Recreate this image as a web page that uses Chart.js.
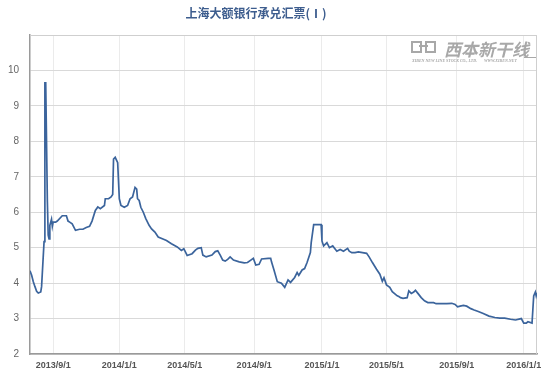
<!DOCTYPE html>
<html>
<head>
<meta charset="utf-8">
<script src="https://cdn.jsdelivr.net/npm/chart.js@4/dist/chart.umd.min.js"></script>
<style>
  html, body { margin: 0; padding: 0; background: #fff; }
</style>
</head>
<body>
<canvas id="chart-acceptance" width="559" height="377"></canvas>
<script>
var title = "上海大额银行承兑汇票(Ⅰ)";

var dates = [
  "2013-07-24", "2013-07-26", "2013-07-30", "2013-08-01", "2013-08-05", "2013-08-07", "2013-08-12", "2013-08-13",
  "2013-08-16", "2013-08-19", "2013-08-20", "2013-08-22", "2013-08-23", "2013-08-26", "2013-08-27", "2013-08-29",
  "2013-08-30", "2013-09-02", "2013-09-05", "2013-09-09", "2013-09-17", "2013-09-26", "2013-09-30", "2013-10-09",
  "2013-10-14", "2013-10-18", "2013-10-25", "2013-10-31", "2013-11-06", "2013-11-12", "2013-11-15", "2013-11-21",
  "2013-11-26", "2013-11-29", "2013-12-06", "2013-12-09", "2013-12-13", "2013-12-18", "2013-12-20", "2013-12-23",
  "2013-12-25", "2013-12-27", "2013-12-30", "2014-01-02", "2014-01-06", "2014-01-10", "2014-01-16", "2014-01-21",
  "2014-01-24", "2014-01-29", "2014-01-30", "2014-02-07", "2014-02-10", "2014-02-12", "2014-02-14", "2014-02-19",
  "2014-02-24", "2014-02-28", "2014-03-05", "2014-03-11", "2014-03-17", "2014-03-24", "2014-03-31", "2014-04-09",
  "2014-04-18", "2014-04-25", "2014-04-30", "2014-05-08", "2014-05-16", "2014-05-22", "2014-05-27", "2014-06-03",
  "2014-06-05", "2014-06-11", "2014-06-20", "2014-06-26", "2014-07-01", "2014-07-04", "2014-07-09", "2014-07-14",
  "2014-07-17", "2014-07-22", "2014-07-28", "2014-08-06", "2014-08-14", "2014-08-20", "2014-08-26", "2014-08-29",
  "2014-09-03", "2014-09-10", "2014-09-15", "2014-09-25", "2014-09-30", "2014-10-08", "2014-10-13", "2014-10-17",
  "2014-10-24", "2014-10-30", "2014-11-05", "2014-11-10", "2014-11-17", "2014-11-20", "2014-11-24", "2014-11-28",
  "2014-12-03", "2014-12-08", "2014-12-12", "2014-12-15", "2014-12-18", "2014-12-31", "2015-01-05", "2015-01-07",
  "2015-01-13", "2015-01-16", "2015-01-22", "2015-01-29", "2015-02-04", "2015-02-10", "2015-02-17", "2015-02-26",
  "2015-03-03", "2015-03-09", "2015-03-13", "2015-03-20", "2015-03-27", "2015-04-01", "2015-04-08", "2015-04-15",
  "2015-04-21", "2015-04-24", "2015-04-28", "2015-05-04", "2015-05-08", "2015-05-13", "2015-05-21", "2015-05-25",
  "2015-05-27", "2015-06-01", "2015-06-08", "2015-06-10", "2015-06-15", "2015-06-18", "2015-06-23", "2015-06-26",
  "2015-07-02", "2015-07-08", "2015-07-14", "2015-07-23", "2015-07-28", "2015-08-06", "2015-08-14", "2015-08-24",
  "2015-08-28", "2015-09-02", "2015-09-09", "2015-09-15", "2015-09-21", "2015-09-28", "2015-10-09", "2015-10-16",
  "2015-10-26", "2015-11-04", "2015-11-13", "2015-11-23", "2015-12-01", "2015-12-10", "2015-12-18", "2015-12-29",
  "2016-01-04", "2016-01-07", "2016-01-11", "2016-01-18", "2016-01-20", "2016-01-22", "2016-01-25", "2016-01-26"
];

var rates = [
  4.35, 4.22, 4.04, 3.90, 3.77, 3.72, 3.75, 3.90,
  5.17, 9.65, 9.65, 6.30, 5.35, 5.25, 5.63, 5.80,
  5.60, 5.72, 5.72, 5.75, 5.90, 5.90, 5.75, 5.72,
  5.67, 5.49, 5.52, 5.52, 5.57, 5.60, 5.75, 6.05,
  6.15, 6.10, 6.19, 6.38, 6.38, 6.43, 6.50, 7.50,
  7.55, 7.45, 7.40, 6.38, 6.19, 6.14, 6.19, 6.38,
  6.43, 6.70, 6.70, 6.65, 6.38, 6.33, 6.14, 6.00,
  5.82, 5.63, 5.53, 5.44, 5.30, 5.25, 5.20, 5.11,
  5.02, 4.92, 4.97, 4.78, 4.83, 4.93, 4.98, 5.00,
  4.79, 4.74, 4.79, 4.89, 4.91, 4.79, 4.65, 4.62,
  4.67, 4.74, 4.65, 4.60, 4.57, 4.58, 4.65, 4.70,
  4.51, 4.53, 4.68, 4.70, 4.70, 4.60, 4.37, 4.04,
  4.00, 3.88, 4.09, 4.02, 4.16, 4.30, 4.22, 4.37,
  4.41, 4.58, 4.86, 5.14, 5.65, 5.65, 5.19, 5.05,
  5.14, 5.00, 5.05, 4.90, 4.95, 4.90, 4.98, 4.90,
  4.86, 4.86, 4.88, 4.86, 4.84, 4.74, 4.58, 4.39,
  4.25, 4.05, 4.15, 3.95, 3.88, 3.76, 3.64, 3.62,
  3.59, 3.57, 3.59, 3.78, 3.71, 3.75, 3.80, 3.71,
  3.59, 3.50, 3.45, 3.45, 3.42, 3.42, 3.42, 3.43,
  3.40, 3.33, 3.35, 3.37, 3.35, 3.28, 3.24, 3.20,
  3.14, 3.07, 3.03, 3.01, 3.01, 2.98, 2.96, 3.00,
  2.87, 2.87, 2.91, 2.87, 3.64, 3.75, 3.64, 3.73
];

var tickDates = ["2013-09-01", "2014-01-01", "2014-05-01", "2014-09-01", "2015-01-01", "2015-05-01", "2015-09-01", "2016-01-01"];
var tickLabels = ["2013/9/1", "2014/1/1", "2014/5/1", "2014/9/1", "2015/1/1", "2015/5/1", "2015/9/1", "2016/1/1"];

// market closed on these weekdays, the axis counts trading days only
var holidays = [
  "2013-09-19", "2013-09-20", "2013-10-01", "2013-10-02", "2013-10-03", "2013-10-04", "2013-10-07",
  "2014-01-01", "2014-01-31", "2014-02-03", "2014-02-04", "2014-02-05", "2014-02-06", "2014-04-07",
  "2014-05-01", "2014-05-02", "2014-06-02", "2014-09-08", "2014-10-01", "2014-10-02", "2014-10-03",
  "2014-10-06", "2014-10-07", "2015-01-01", "2015-01-02", "2015-02-18", "2015-02-19", "2015-02-20",
  "2015-02-23", "2015-02-24", "2015-04-06", "2015-05-01", "2015-06-22", "2015-09-03", "2015-09-04",
  "2015-10-01", "2015-10-02", "2015-10-05", "2015-10-06", "2015-10-07", "2016-01-01"
];

function toUTC(s) {
  var p = s.split("-");
  return Date.UTC(+p[0], +p[1] - 1, +p[2]);
}

// number of trading days before the given date
function bday(s) {
  var dayMs = 86400000;
  var t = toUTC(s);
  var n = 0;
  for (var d = Date.UTC(2013, 6, 1); d < t; d += dayMs) {
    var wd = new Date(d).getUTCDay();
    if (wd === 0 || wd === 6) continue;
    if (holidays.indexOf(new Date(d).toISOString().slice(0, 10)) >= 0) continue;
    n++;
  }
  return n;
}

var points = dates.map(function(d, i) { return { x: bday(d), y: rates[i] }; });
var tickValues = tickDates.map(bday);
var tickText = {};
tickValues.forEach(function(v, i) { tickText[v] = tickLabels[i]; });

var decor = {
  id: "decor",
  beforeDatasetsDraw: function(chart) {
    var ctx = chart.ctx, a = chart.chartArea;
    ctx.save();
    // light frame on top and right
    ctx.strokeStyle = "#cfcfcf";
    ctx.lineWidth = 1;
    ctx.beginPath();
    ctx.moveTo(a.left, a.top + 0.5);
    ctx.lineTo(a.right - 0.5, a.top + 0.5);
    ctx.lineTo(a.right - 0.5, a.bottom);
    ctx.stroke();

    // watermark
    ctx.fillStyle = "#a8a8a8";
    ctx.strokeStyle = "#a8a8a8";
    ctx.lineWidth = 2;
    ctx.strokeRect(412, 42, 9, 10);
    ctx.strokeRect(426, 42, 9, 10);
    ctx.beginPath();
    ctx.moveTo(419, 46); ctx.lineTo(428, 46);
    ctx.stroke();
    ctx.font = "italic bold 17px 'Noto Sans CJK SC'";
    ctx.textBaseline = "alphabetic";
    ctx.textAlign = "left";
    ctx.fillText("西本新干线", 444, 56);
    ctx.lineWidth = 1;
    ctx.beginPath();
    ctx.moveTo(524, 57.5); ctx.lineTo(536, 57.5);
    ctx.stroke();
    ctx.font = "italic bold 4px 'Liberation Serif'";
    ctx.fillText("XIBEN NEW LINE STOCK CO., LTD.", 412, 62);
    ctx.fillText("WWW.XIBEN.NET", 484, 62);
    ctx.restore();
  },
  afterDraw: function(chart) {
    var ctx = chart.ctx;
    ctx.save();
    ctx.fillStyle = "#3d5d8e";
    ctx.font = "bold 12px 'Noto Sans CJK SC'";
    ctx.textAlign = "center";
    ctx.textBaseline = "middle";
    ctx.fillText(title, 256, 13);
    ctx.restore();
  }
};

var chart_acceptance = new Chart(document.getElementById("chart-acceptance"), {
  type: "line",
  data: {
    datasets: [{
      label: title,
      data: points,
      borderColor: "#3b649c",
      borderWidth: 1.7,
      pointRadius: 0,
      tension: 0,
      fill: false
    }]
  },
  options: {
    responsive: false,
    animation: false,
    events: [],
    layout: { padding: { top: 35, right: 22, left: 0, bottom: 0 } },
    plugins: {
      legend: { display: false },
      tooltip: { enabled: false }
    },
    scales: {
      x: {
        type: "linear",
        min: points[0].x,
        max: points[points.length - 1].x,
        afterBuildTicks: function(scale) {
          scale.ticks = tickValues.map(function(v) { return { value: v }; });
        },
        afterFit: function(scale) { scale.height = 23; },
        ticks: {
          autoSkip: false,
          maxRotation: 0,
          padding: 6,
          color: "#555",
          font: { family: "'Liberation Sans', Arial", size: 9, weight: "bold" },
          callback: function(v) { return tickText[v] || ""; }
        },
        grid: { color: "#ebebeb", lineWidth: 1, drawTicks: false },
        border: { color: "#9a9a9a", width: 1.5 }
      },
      y: {
        min: 2,
        max: 11,
        afterFit: function(scale) { scale.width = 30; },
        ticks: {
          stepSize: 1,
          padding: 11,
          color: "#666",
          font: { family: "'Liberation Sans', Arial", size: 10 },
          callback: function(v) { return v === 11 ? "" : v; }
        },
        grid: { color: "#d9d9d9", lineWidth: 1, drawTicks: false },
        border: { color: "#9a9a9a", width: 1.5 }
      }
    }
  },
  plugins: [decor]
});
</script>
</body>
</html>
